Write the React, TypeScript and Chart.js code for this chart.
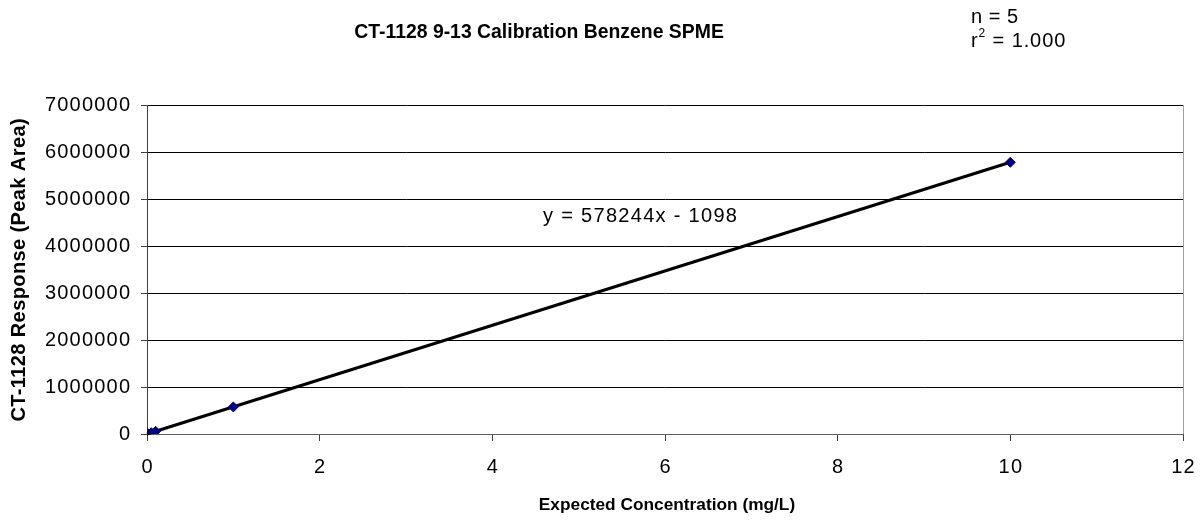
import React, { useEffect, useRef } from "react";
import { Chart, registerables } from "chart.js";

Chart.register(...registerables);

const chartTitle = "CT-1128 9-13 Calibration Benzene SPME";
const xAxisTitle = "Expected Concentration (mg/L)";
const yAxisTitle = "CT-1128 Response (Peak Area)";
const equationText = "y = 578244x - 1098";
const nText = "n = 5";
const r2Value = "1.000";

const concentrations = [0.01, 0.05, 0.1, 1, 10];
const responses = [4600, 27800, 56700, 577100, 5781300];

const trendX = [0, 10];
const trendY = [-1098, 5781342];

const xTicks = [0, 2, 4, 6, 8, 10, 12];
const yTicks = [0, 1000000, 2000000, 3000000, 4000000, 5000000, 6000000, 7000000];

const FONT = "'Liberation Sans', Arial, sans-serif";

const textPlugin = {
  id: "customText",
  afterDraw(chart: any) {
    const ctx = chart.ctx as CanvasRenderingContext2D;
    const xs = chart.scales.x;
    const ys = chart.scales.y;
    const area = chart.chartArea;
    ctx.save();
    ctx.strokeStyle = "#a0a0a0";
    ctx.lineWidth = 1;
    ctx.beginPath();
    ctx.moveTo(Math.round(area.right) + 0.5, area.top);
    ctx.lineTo(Math.round(area.right) + 0.5, area.bottom);
    ctx.stroke();

    ctx.fillStyle = "#000";
    const draw = (t: string, x: number, y: number, font: string, ls: number, align: CanvasTextAlign) => {
      ctx.font = font;
      (ctx as any).letterSpacing = ls + "px";
      ctx.textAlign = align;
      ctx.textBaseline = "middle";
      let dx = 0;
      if (align === "right") dx = ls;
      else if (align === "center") dx = ls / 2;
      ctx.fillText(t, x + dx, y);
    };

    const tickFont = "20px " + FONT;
    yTicks.forEach((v) => {
      draw(String(v), 130, ys.getPixelForValue(v), tickFont, 1.2, "right");
    });
    xTicks.forEach((v) => {
      draw(String(v), xs.getPixelForValue(v), 467, tickFont, 1.2, "center");
    });

    draw(chartTitle, 539, 33, "bold 19.4px " + FONT, 0, "center");
    draw(xAxisTitle, 667, 505, "bold 17.3px " + FONT, 0, "center");
    draw(equationText, 640, 216, "20px " + FONT, 1.3, "center");

    ctx.save();
    ctx.translate(19, 270);
    ctx.rotate(-Math.PI / 2);
    draw(yAxisTitle, 0, 0, "bold 20px " + FONT, 0.4, "center");
    ctx.restore();

    draw(nText, 971, 17, "20px " + FONT, 0.5, "left");
    ctx.font = "20px " + FONT;
    (ctx as any).letterSpacing = "0.9px";
    ctx.textAlign = "left";
    ctx.textBaseline = "middle";
    let x = 971;
    ctx.fillText("r", x, 41);
    x += ctx.measureText("r").width;
    ctx.font = "12px " + FONT;
    ctx.fillText("2", x, 34);
    x += ctx.measureText("2").width;
    ctx.font = "20px " + FONT;
    ctx.fillText(" = " + r2Value, x, 41);
    (ctx as any).letterSpacing = "0px";
    ctx.restore();
  },
};

export default function App() {
  const ref = useRef<HTMLCanvasElement | null>(null);
  useEffect(() => {
    document.body.style.margin = "0";
    const canvas = ref.current!;
    const chart = new Chart(canvas, {
      type: "scatter",
      data: {
        datasets: [
          {
            type: "line",
            label: "Trend",
            data: trendX.map((x, i) => ({ x, y: trendY[i] })),
            borderColor: "#000",
            borderWidth: 3,
            pointRadius: 0,
            showLine: true,
            fill: false,
            clip: false as any,
            order: 2,
          } as any,
          {
            label: "Benzene",
            data: concentrations.map((x, i) => ({ x, y: responses[i] })),
            pointStyle: "rectRot",
            pointRadius: 5,
            pointBackgroundColor: "#000080",
            pointBorderColor: "#000080",
            pointBorderWidth: 1,
            showLine: false,
            order: 1,
          },
        ],
      },
      options: {
        animation: false,
        responsive: false,
        devicePixelRatio: 1,
        layout: { padding: { top: 105, right: 18, left: 0, bottom: 0 } },
        plugins: { legend: { display: false }, tooltip: { enabled: false }, title: { display: false } },
        scales: {
          x: {
            type: "linear",
            min: 0,
            max: 12,
            ticks: { display: false, stepSize: 2 },
            grid: { drawOnChartArea: false, drawTicks: true, tickLength: 7, tickColor: "#404040" },
            border: { display: true, color: "#606060", width: 1 },
            afterFit: (s: any) => {
              s.height = 86;
            },
          },
          y: {
            type: "linear",
            min: 0,
            max: 7000000,
            ticks: { display: false, stepSize: 1000000 },
            grid: { color: "#000", lineWidth: 1, drawTicks: true, tickLength: 6, tickColor: "#404040" },
            border: { display: true, color: "#404040", width: 1 },
            afterFit: (s: any) => {
              s.width = 147;
            },
          },
        },
      },
      plugins: [textPlugin],
    });
    return () => chart.destroy();
  }, []);
  return (
    <div style={{ width: 1201, height: 520, background: "#fff" }}>
      <canvas ref={ref} width={1201} height={520} style={{ display: "block" }} />
    </div>
  );
}
